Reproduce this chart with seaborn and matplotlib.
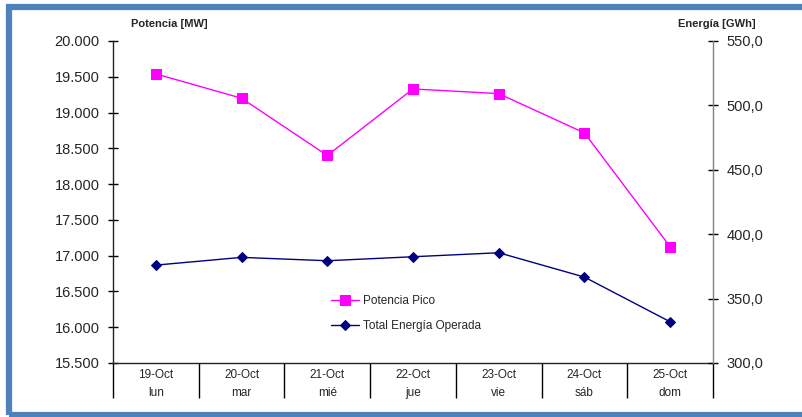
import numpy as np
import pandas as pd
import matplotlib.pyplot as plt
import seaborn as sns
from matplotlib.patches import Rectangle
from matplotlib.ticker import FuncFormatter, FixedLocator

fechas = ["19-Oct", "20-Oct", "21-Oct", "22-Oct", "23-Oct", "24-Oct", "25-Oct"]
dias = ["lun", "mar", "mié", "jue", "vie", "sáb", "dom"]
potencia_pico = [19540, 19200, 18400, 19330, 19265, 18715, 17125]
energia_operada = [376.0, 382.0, 379.4, 382.5, 385.6, 366.7, 332.0]

sns.set_style("white")
plt.rcParams['font.family'] = ['Liberation Sans', 'DejaVu Sans']

df = pd.DataFrame({
    'dia': [f + "\n" + d for f, d in zip(fechas, dias)],
    'potencia': potencia_pico,
    'energia': energia_operada,
})

fig = plt.figure(figsize=(8.03, 4.17), dpi=100)
ax = fig.add_axes([113 / 803, 1 - 363 / 417, 600 / 803, 322 / 417])
ax2 = ax.twinx()

sns.lineplot(data=df, x='dia', y='potencia', ax=ax, color='#FF00FF', marker='s',
             markersize=6.5, markeredgecolor='#FF00FF', linewidth=1, sort=False,
             label='Potencia Pico', legend=False)
sns.lineplot(data=df, x='dia', y='energia', ax=ax2, color='#000080', marker='D',
             markersize=5.5, markeredgecolor='#000080', linewidth=1, sort=False,
             label='Total Energía Operada', legend=False)

ax.set_ylim(15500, 20000)
ax2.set_ylim(300, 550)
ax.set_yticks(np.arange(15500, 20001, 500))
ax2.set_yticks(np.arange(300, 551, 50))
ax.yaxis.set_major_formatter(FuncFormatter(lambda v, p: f"{v:,.0f}".replace(",", ".")))
ax2.yaxis.set_major_formatter(FuncFormatter(lambda v, p: f"{v:.1f}".replace(".", ",")))

ax.set_xlim(-0.5, len(fechas) - 0.5)
ax.xaxis.set_minor_locator(FixedLocator(np.arange(-0.5, len(fechas), 1.0)))
ax.tick_params(axis='x', which='major', length=0, pad=4, labelsize=8.5, bottom=True)
ax.tick_params(axis='x', which='minor', direction='out', length=25, width=1,
               color='black', bottom=True)
for t in ax.get_xticklabels():
    t.set_linespacing(1.7)

ax.tick_params(axis='y', direction='inout', length=7, width=1, color='black',
               labelsize=10.5, pad=6, left=True)
ax2.tick_params(axis='y', direction='inout', length=7, width=1, color='black',
                labelsize=10.5, pad=6, right=True)

ax.set_xlabel('')
ax.set_ylabel('')
ax2.set_ylabel('')
ax.grid(False)
ax2.grid(False)

for s in ['top', 'right']:
    ax.spines[s].set_visible(False)
for s in ['top', 'left', 'bottom']:
    ax2.spines[s].set_visible(False)
ax.spines['left'].set_color('#222222')
ax.spines['bottom'].set_color('#222222')
ax2.spines['right'].set_color('#808080')
for s in [ax.spines['left'], ax.spines['bottom'], ax2.spines['right']]:
    s.set_linewidth(1)

fig.text(169 / 803, 1 - 24 / 417, 'Potencia [MW]', ha='center', va='center',
         fontsize=8, fontweight='bold')
fig.text(717 / 803, 1 - 24 / 417, 'Energía [GWh]', ha='center', va='center',
         fontsize=8, fontweight='bold')

handles = ax.get_lines()[:1] + ax2.get_lines()[:1]
ax2.legend(handles, [h.get_label() for h in handles], loc='upper left',
           bbox_to_anchor=(0.355, 0.225), frameon=False, fontsize=8.5,
           handlelength=2.4, labelspacing=1.1, handletextpad=0.3, borderaxespad=0)

fig.patches.append(Rectangle((9 / 803, 1 - 415 / 417), 810 / 803, 408 / 417,
                             transform=fig.transFigure, fill=False,
                             edgecolor='#4F81BD', linewidth=4.5))

fig.savefig('out.png', dpi=100)
